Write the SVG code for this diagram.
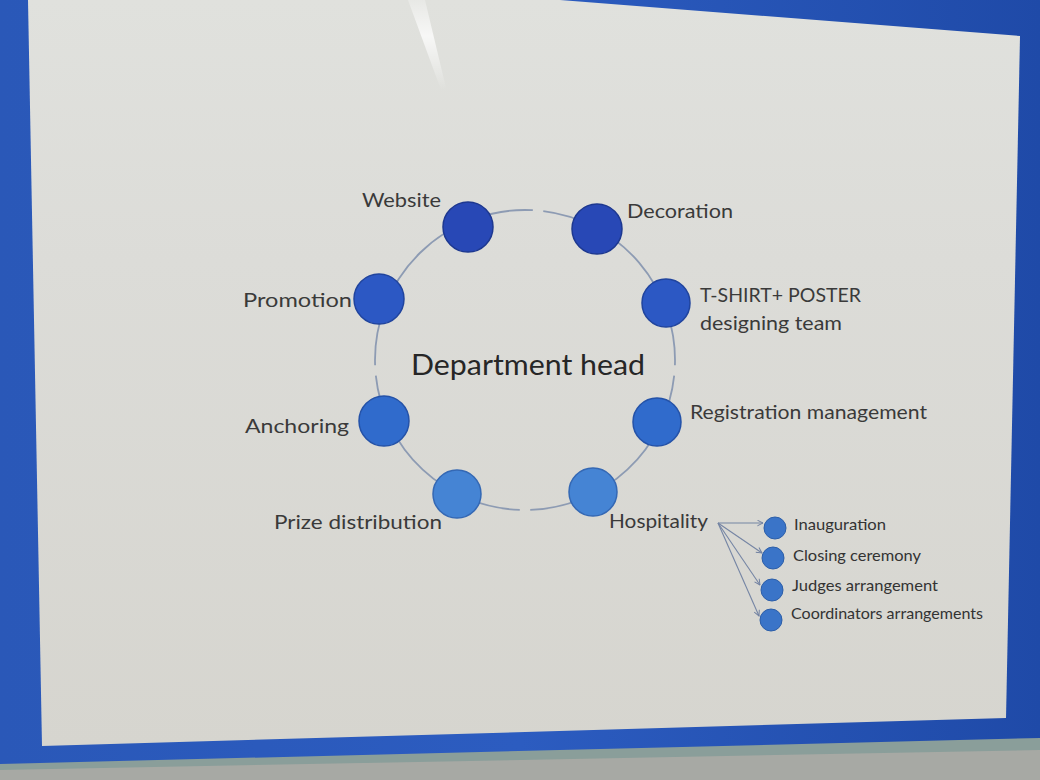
<svg xmlns="http://www.w3.org/2000/svg" width="1040" height="780" viewBox="0 0 1040 780">
  <defs>
    <linearGradient id="slideGrad" x1="0" y1="0" x2="0" y2="1">
      <stop offset="0" stop-color="#e0e1dd"/>
      <stop offset="0.35" stop-color="#dcdcd8"/>
      <stop offset="1" stop-color="#d6d5cf"/>
    </linearGradient>
    <linearGradient id="bezelGrad" x1="0" y1="0" x2="1" y2="0">
      <stop offset="0" stop-color="#2a58b8"/>
      <stop offset="0.5" stop-color="#2c5cc0"/>
      <stop offset="1" stop-color="#1f4aa8"/>
    </linearGradient>
    <linearGradient id="glare" x1="0" y1="0" x2="0" y2="1">
      <stop offset="0" stop-color="#ffffff" stop-opacity="0.25"/>
      <stop offset="0.4" stop-color="#ffffff" stop-opacity="0.75"/>
      <stop offset="1" stop-color="#ffffff" stop-opacity="0"/>
    </linearGradient>
    <marker id="arr" viewBox="0 0 10 10" refX="9" refY="5" markerWidth="7" markerHeight="7" orient="auto" markerUnits="userSpaceOnUse">
      <path d="M1,1 L9,5 L1,9" fill="none" stroke="#6f7fa0" stroke-width="1.4"/>
    </marker>
    <style>
      .lbl { font-family: "Lato", "Open Sans", "Liberation Sans", sans-serif; font-size: 20px; fill: #3a3a3a; }
      .sub { font-family: "Lato", "Open Sans", "Liberation Sans", sans-serif; font-size: 15px; fill: #333333; }
      .title { font-family: "Lato", "Open Sans", "Liberation Sans", sans-serif; font-size: 29px; fill: #262626; }
      .ring { fill: none; stroke: #8d9bb3; stroke-width: 1.8; }
      .conn { fill: none; stroke: #7585a4; stroke-width: 1.1; marker-end: url(#arr); }
      .n1 { fill: #2848b6; stroke: #1d3890; stroke-width: 1.5; }
      .n2 { fill: #2c58c4; stroke: #20449e; stroke-width: 1.5; }
      .n3 { fill: #306bcc; stroke: #2452a8; stroke-width: 1.5; }
      .n4 { fill: #4584d4; stroke: #3468b4; stroke-width: 1.5; }
      .s { fill: #3a74c8; stroke: #2c5ea8; stroke-width: 1; }
    </style>
  </defs>

  <!-- monitor bezel and surroundings -->
  <rect x="0" y="0" width="1040" height="780" fill="url(#bezelGrad)"/>
  <polygon points="0,764 1040,738 1040,780 0,780" fill="#8a9e9a"/>
  <polygon points="0,770 1040,750 1040,780 0,780" fill="#a7a9a4"/>
  <!-- slide -->
  <polygon points="28,0 560,0 1020,36 1006,718 42,746" fill="url(#slideGrad)"/>
  <polygon points="408,0 425,0 446,88 441,90" fill="url(#glare)"/>

  <!-- connectors -->
  <g id="connectors">
    <path class="ring" d="M543.28,211.12 A150,150 0 0 1 674.91,365.23"/>
    <path class="ring" d="M674.18,375.68 A150,150 0 0 1 530.23,509.91"/>
    <path class="ring" d="M519.77,509.91 A150,150 0 0 1 375.82,375.68"/>
    <path class="ring" d="M375.09,365.23 A150,150 0 0 1 532.85,210.21"/>
    <line class="conn" x1="718" y1="523" x2="763" y2="523"/>
    <line class="conn" x1="718" y1="523" x2="762" y2="553"/>
    <line class="conn" x1="718" y1="523" x2="760" y2="585"/>
    <line class="conn" x1="718" y1="523" x2="759" y2="616"/>
  </g>

  <g id="center">
    <text class="title" x="411" y="375" textLength="234" lengthAdjust="spacingAndGlyphs">Department head</text>
  </g>

  <g id="website">
    <circle class="n1" cx="468" cy="227" r="25"/>
    <text class="lbl" x="362" y="207" textLength="79" lengthAdjust="spacingAndGlyphs">Website</text>
  </g>
  <g id="decoration">
    <circle class="n1" cx="597" cy="229" r="25"/>
    <text class="lbl" x="627" y="218" textLength="106" lengthAdjust="spacingAndGlyphs">Decoration</text>
  </g>
  <g id="tshirt">
    <circle class="n2" cx="666" cy="303" r="24"/>
    <text class="lbl" x="700" y="302" textLength="161" lengthAdjust="spacingAndGlyphs">T-SHIRT+ POSTER</text>
    <text class="lbl" x="700" y="330" textLength="142" lengthAdjust="spacingAndGlyphs">designing team</text>
  </g>
  <g id="registration">
    <circle class="n3" cx="657" cy="422" r="24"/>
    <text class="lbl" x="690" y="419" textLength="237" lengthAdjust="spacingAndGlyphs">Registration management</text>
  </g>
  <g id="hospitality">
    <circle class="n4" cx="593" cy="492" r="24"/>
    <text class="lbl" x="609" y="528" textLength="99" lengthAdjust="spacingAndGlyphs">Hospitality</text>
  </g>
  <g id="prize">
    <circle class="n4" cx="457" cy="494" r="24"/>
    <text class="lbl" x="274" y="529" textLength="168" lengthAdjust="spacingAndGlyphs">Prize distribution</text>
  </g>
  <g id="anchoring">
    <circle class="n3" cx="384" cy="421" r="25"/>
    <text class="lbl" x="245" y="433" textLength="104" lengthAdjust="spacingAndGlyphs">Anchoring</text>
  </g>
  <g id="promotion">
    <circle class="n2" cx="379" cy="299" r="25"/>
    <text class="lbl" x="243" y="307" textLength="109" lengthAdjust="spacingAndGlyphs">Promotion</text>
  </g>

  <g id="inauguration">
    <circle class="s" cx="775" cy="528" r="11"/>
    <text class="sub" x="794" y="530" textLength="92" lengthAdjust="spacingAndGlyphs">Inauguration</text>
  </g>
  <g id="closing">
    <circle class="s" cx="773" cy="558" r="11"/>
    <text class="sub" x="793" y="561" textLength="128" lengthAdjust="spacingAndGlyphs">Closing ceremony</text>
  </g>
  <g id="judges">
    <circle class="s" cx="772" cy="590" r="11"/>
    <text class="sub" x="792" y="591" textLength="146" lengthAdjust="spacingAndGlyphs">Judges arrangement</text>
  </g>
  <g id="coordinators">
    <circle class="s" cx="771" cy="620" r="11"/>
    <text class="sub" x="791" y="619" textLength="192" lengthAdjust="spacingAndGlyphs">Coordinators arrangements</text>
  </g>
</svg>
